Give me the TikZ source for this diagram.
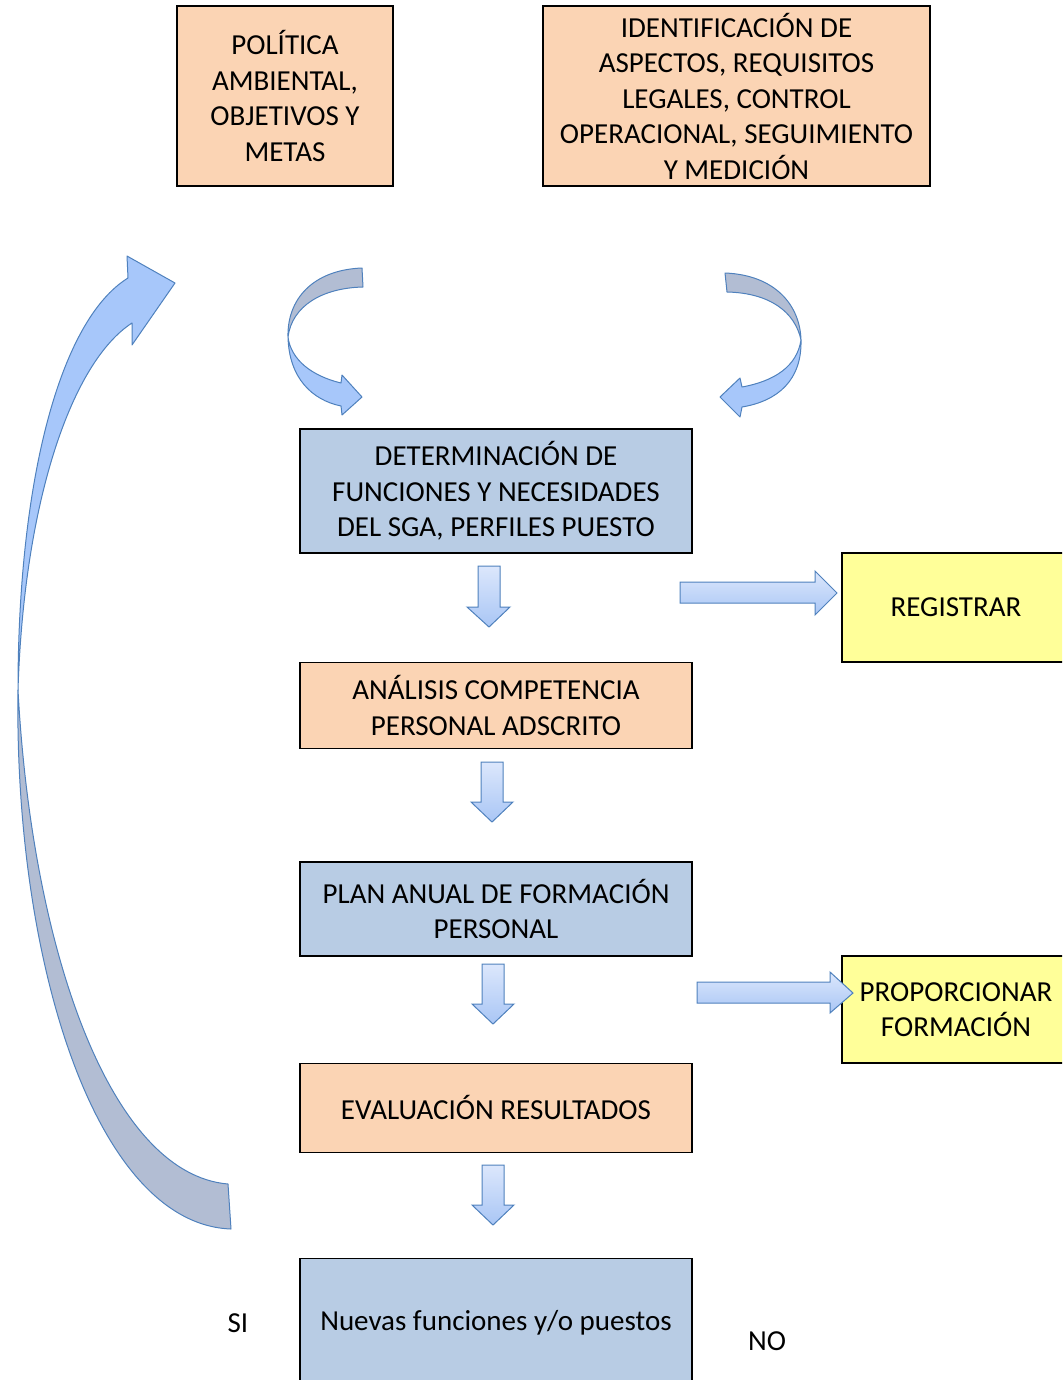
\documentclass[tikz,border=0pt]{standalone}
\usepackage{fontspec}
\setmainfont{Carlito}
\usetikzlibrary{positioning}
\definecolor{peach}{HTML}{FBD4B4}
\definecolor{paleblue}{HTML}{B8CCE4}
\definecolor{paleyellow}{HTML}{FFFF99}
\definecolor{arrowedge}{HTML}{4F81BD}
\definecolor{arrowlight}{HTML}{DCE7FC}
\definecolor{arrowdark}{HTML}{A9C6F5}
\definecolor{bandgray}{HTML}{B2BDD3}
\definecolor{bandblue}{HTML}{A7C7FA}

\begin{document}
\begin{tikzpicture}[x=1pt,y=-1pt,node distance=108pt,
  box/.style={draw,line width=1.4pt,align=center,inner sep=2pt,minimum width=392pt,
    font=\fontsize{29}{35.5}\selectfont},
  org/.style={fill=peach}, blu/.style={fill=paleblue}, yel/.style={fill=paleyellow},
  lbl/.style={font=\fontsize{29}{35.5}\selectfont},
  blk/.style={draw=arrowedge,line width=1pt,top color=arrowlight,bottom color=arrowdark},
  band/.style={draw=arrowedge,line width=1pt,line join=round}]
\useasboundingbox (0,0) rectangle (1062,1380);
\clip (0,0) rectangle (1062,1380);

% top inputs
\node[box,org,minimum width=216pt,minimum height=180pt] (politica) at (285,96)
  {POLÍTICA\\AMBIENTAL,\\OBJETIVOS Y\\METAS};
\node[box,org,minimum width=387pt,minimum height=180pt] (ident) at (736.5,96)
  {IDENTIFICACIÓN DE\\ASPECTOS, REQUISITOS\\LEGALES, CONTROL\\OPERACIONAL, SEGUIMIENTO\\Y MEDICIÓN};

% main column
\node[box,blu,minimum height=124pt] (determ) at (496,491)
  {DETERMINACIÓN DE\\FUNCIONES Y NECESIDADES\\DEL SGA, PERFILES PUESTO};
\node[box,org,minimum height=86pt,below=of determ] (analisis)
  {ANÁLISIS COMPETENCIA\\PERSONAL ADSCRITO};
\node[box,blu,minimum height=94pt,below=112pt of analisis] (plan)
  {PLAN ANUAL DE FORMACIÓN\\PERSONAL};
\node[box,org,minimum height=89pt,below=106pt of plan] (evalua)
  {EVALUACIÓN RESULTADOS};
\node[box,blu,minimum height=128pt,below=105pt of evalua] (nuevas)
  {Nuevas funciones y/o puestos};

% side actions
\node[box,yel,minimum width=228pt,minimum height=109pt] (registrar) at (956,607.5) {REGISTRAR};
\node[box,yel,minimum width=228pt,minimum height=107pt] (proporc) at (956,1009.5)
  {PROPORCIONAR\\FORMACIÓN};

\node[lbl] (si) at (238,1323) {SI};
\node[lbl] (no) at (767,1341) {NO};

% block arrows
\draw[blk] (478,566) -- (500,566) -- (500,607) -- (510,607) -- (489,627) -- (467,607) -- (478,607) -- cycle;
\draw[blk] (481,762) -- (503,762) -- (503,802) -- (513,802) -- (492,822) -- (471,802) -- (481,802) -- cycle;
\draw[blk] (482,964) -- (504,964) -- (504,1004) -- (514,1004) -- (493,1024) -- (472,1004) -- (482,1004) -- cycle;
\draw[blk] (482,1165) -- (504,1165) -- (504,1205) -- (514,1205) -- (493,1225) -- (472,1205) -- (482,1205) -- cycle;
\draw[blk] (680,582) -- (815,582) -- (815,571) -- (837,593) -- (815,615) -- (815,603) -- (680,603) -- cycle;
\draw[blk] (697,982) -- (830,982) -- (830,972) -- (853,993) -- (830,1013) -- (830,1003) -- (697,1003) -- cycle;

% curved arrows from the inputs
\draw[band,fill=bandgray] (362,268) .. controls (312,270) and (287,300) .. (288,337)
  .. controls (292,306) and (322,288) .. (363,287) -- cycle;
\draw[band,fill=bandblue] (288,337) .. controls (289,378) and (312,400) .. (341,406)
  -- (342,415) -- (362,397) -- (342,375) -- (341,383)
  .. controls (312,376) and (291,360) .. (288,337) -- cycle;
\draw[band,fill=bandgray] (725,273) .. controls (775,275) and (800,305) .. (801,340)
  .. controls (795,312) and (770,293) .. (727,292) -- cycle;
\draw[band,fill=bandblue] (801,340) .. controls (802,380) and (778,401) .. (742,407)
  -- (740,417) -- (720,397) -- (740,378) -- (742,387)
  .. controls (775,381) and (797,366) .. (801,340) -- cycle;

% return arrow
\draw[band,fill=bandgray] (18,690) .. controls (14,960) and (95,1224) .. (231,1229)
  -- (228,1184) .. controls (110,1174) and (32,950) .. (18,690) -- cycle;
\draw[band,fill=bandblue] (18,690) .. controls (18,480) and (60,320) .. (128,278)
  -- (127,256) -- (175,283) -- (132,345) -- (132,323)
  .. controls (72,362) and (24,500) .. (18,690) -- cycle;
\end{tikzpicture}
\end{document}
